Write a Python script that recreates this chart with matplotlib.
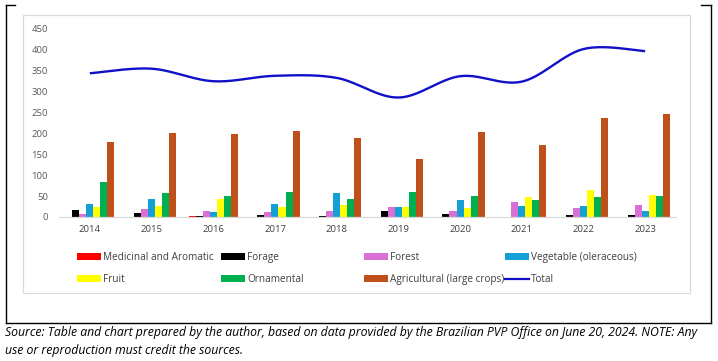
import numpy as np
import matplotlib
matplotlib.use("Agg")
import matplotlib.pyplot as plt
from matplotlib.patches import Rectangle, Patch
from matplotlib.lines import Line2D

years = ["2014", "2015", "2016", "2017", "2018", "2019", "2020", "2021", "2022", "2023"]
medicinal = [0, 0, 2, 0, 0, 0, 0, 0, 0, 0]
forage = [17, 9, 2, 5, 2, 14, 7, 1, 5, 5]
forest = [8, 19, 14, 12, 14, 24, 14, 37, 21, 29]
vegetable = [31, 43, 12, 31, 57, 24, 41, 26, 26, 14]
fruit = [25, 27, 43, 24, 29, 24, 22, 47, 65, 52]
ornamental = [84, 57, 51, 60, 43, 60, 50, 41, 47, 50]
agricultural = [179, 201, 199, 206, 188, 140, 203, 172, 237, 247]
total = [344, 355, 325, 338, 333, 286, 337, 324, 402, 397]

series_names = ["Medicinal and Aromatic", "Forage", "Forest", "Vegetable (oleraceous)",
                "Fruit", "Ornamental", "Agricultural (large crops)"]
series_vals = [medicinal, forage, forest, vegetable, fruit, ornamental, agricultural]
colors = ["#FF0000", "#000000", "#DA70D6", "#12A0D7", "#FFFF00", "#00B050", "#C0501A"]
line_color = "#1010C8"

source_text = ("Source: Table and chart prepared by the author, based on data provided by the Brazilian PVP Office on June 20, 2024. NOTE: Any\n"
               "use or reproduction must credit the sources.")

plt.rcParams['font.family'] = ['Open Sans', 'DejaVu Sans']

W, H = 718, 361
fig = plt.figure(figsize=(W / 100, H / 100), dpi=100)

def fx(px):
    return px / W

def fy(py):
    return 1 - py / H

ax = fig.add_axes([fx(59), fy(217), fx(676) - fx(59), fy(29) - fy(217)])
n = len(years)
x = np.arange(n)
nb = len(series_vals)
bw = 0.114
for i, (vals, c) in enumerate(zip(series_vals, colors)):
    off = (i - (nb - 1) / 2) * bw
    ax.bar(x + off, vals, width=bw, color=c, linewidth=0, zorder=2)

# Smoothed total line (Catmull-Rom style bezier, as Excel smoothing)
P = np.column_stack([x, np.array(total, dtype=float)])
pts = []
t = np.linspace(0, 1, 40)
for i in range(n - 1):
    p0 = P[i]
    p3 = P[i + 1]
    pm = P[i - 1] if i > 0 else P[i]
    pp = P[i + 2] if i + 2 < n else P[i + 1]
    c1 = p0 + (p3 - pm) / 6
    c2 = p3 - (pp - p0) / 6
    seg = ((1 - t)[:, None] ** 3) * p0 + 3 * ((1 - t)[:, None] ** 2) * t[:, None] * c1 \
        + 3 * (1 - t)[:, None] * (t[:, None] ** 2) * c2 + (t[:, None] ** 3) * p3
    pts.append(seg)
curve = np.vstack(pts)
ax.plot(curve[:, 0], curve[:, 1], color=line_color, lw=1.7, zorder=3, solid_capstyle='butt')

ax.set_xlim(-0.5, n - 0.5)
ax.set_ylim(0, 450)
ax.set_yticks(np.arange(0, 451, 50))
ax.set_xticks(x)
ax.set_xticklabels(years)
for s in ["top", "right", "left"]:
    ax.spines[s].set_visible(False)
ax.spines["bottom"].set_color("#D9D9D9")
ax.spines["bottom"].set_linewidth(0.9)
ax.tick_params(axis='y', length=0, pad=8, labelsize=6.8, labelcolor="#595959")
ax.tick_params(axis='x', length=0, pad=6, labelsize=6.8, labelcolor="#404040")
ax.patch.set_alpha(0)

# Inner chart frame
fig.patches.append(Rectangle((fx(23), fy(293)), fx(690) - fx(23), fy(15) - fy(293),
                             transform=fig.transFigure, fill=False, edgecolor="#D9D9D9", lw=0.9))

# Outer frame lines
lk = dict(transform=fig.transFigure, color="black", lw=1.0)
fig.add_artist(Line2D([fx(6), fx(6)], [fy(5), fy(323)], **lk))
fig.add_artist(Line2D([fx(711), fx(711)], [fy(5), fy(323)], **lk))
fig.add_artist(Line2D([fx(6), fx(711)], [fy(323), fy(323)], **lk))
fig.add_artist(Line2D([fx(6), fx(15)], [fy(5), fy(5)], **lk))
fig.add_artist(Line2D([fx(701), fx(711)], [fy(5), fy(5)], **lk))

# Legend: four columns of two entries
handles = [Patch(facecolor=c, edgecolor='none') for c in colors] + \
          [Line2D([0], [0], color=line_color, lw=1.6)]
labels = series_names + ["Total"]
col_x = [77, 221, 364, 505]
for ci in range(4):
    hs = [handles[ci], handles[ci + 4]]
    ls = [labels[ci], labels[ci + 4]]
    leg = fig.legend(hs, ls, loc='upper left', bbox_to_anchor=(fx(col_x[ci]), fy(252)),
                     frameon=False, borderpad=0, borderaxespad=0, fontsize=7.2,
                     handlelength=2.4, handleheight=0.7, handletextpad=0.2,
                     labelspacing=1.1)
    for txt in leg.get_texts():
        txt.set_color("#404040")

fig.text(fx(5), fy(326), source_text, ha='left', va='top', fontsize=8.85, style='italic',
         family=['Liberation Sans Narrow', 'Open Sans', 'DejaVu Sans'], color='black',
         linespacing=1.5)

fig.savefig("out.png", dpi=100)
